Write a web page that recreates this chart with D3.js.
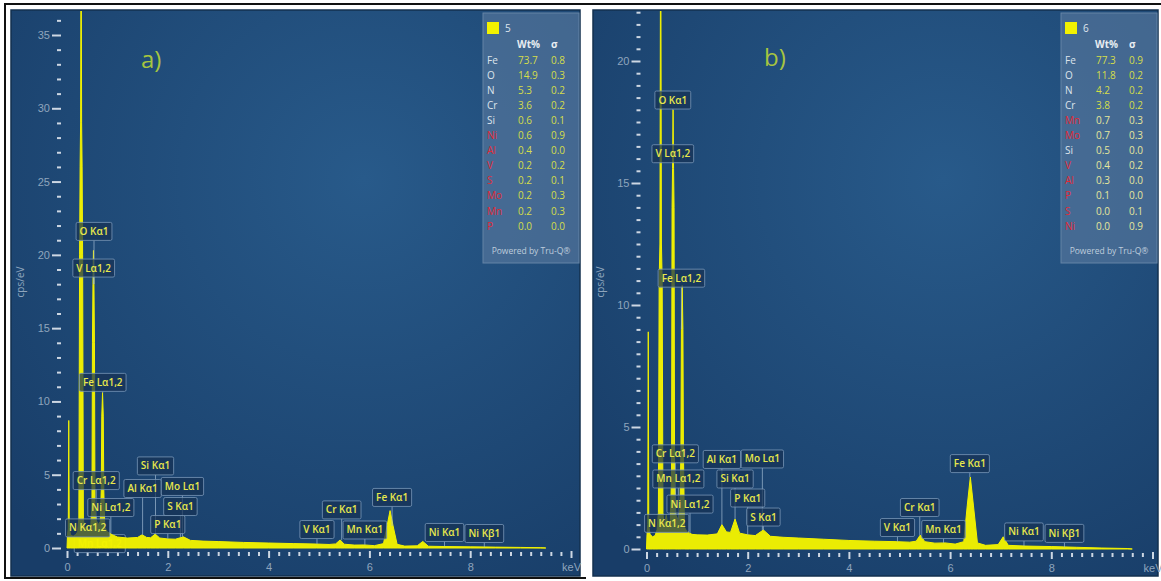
<!DOCTYPE html>
<html>
<head>
<meta charset="utf-8">
<script src="https://cdn.jsdelivr.net/npm/d3@7"></script>
<style>
  body { margin: 0; background: #fff; }
  svg { display: block; font-family: "Open Sans", "Noto Sans", sans-serif; }
</style>
</head>
<body>
<div id="chart"></div>
<script>
// spectrum a) : [keV, cps/eV]
const specA = [
  [0.00, 0.0], [0.01, 0.9], [0.025, 1.3], [0.035, 8.7], [0.045, 1.4], [0.07, 0.9],
  [0.12, 0.8], [0.17, 0.9], [0.21, 1.1], [0.235, 2.0], [0.25, 20], [0.26, 26],
  [0.27, 29], [0.28, 45], [0.29, 29], [0.30, 26], [0.31, 20], [0.325, 2.0],
  [0.35, 1.3], [0.39, 1.5], [0.43, 1.2], [0.47, 1.4], [0.495, 3.0], [0.505, 14],
  [0.515, 18], [0.525, 20.3], [0.535, 18], [0.545, 14], [0.555, 3.0], [0.58, 1.9],
  [0.62, 1.6], [0.66, 1.8], [0.68, 4.0], [0.69, 9.0], [0.705, 10.6], [0.72, 9.0],
  [0.73, 4.0], [0.75, 1.4], [0.80, 1.1], [0.85, 1.0], [0.90, 0.9], [1.00, 0.75],
  [1.20, 0.68], [1.40, 0.72], [1.49, 0.9], [1.58, 0.72], [1.66, 0.7], [1.75, 0.95],
  [1.84, 0.68], [2.00, 0.62], [2.15, 0.6], [2.31, 0.76], [2.45, 0.52], [2.70, 0.47],
  [3.00, 0.44], [3.50, 0.38], [4.00, 0.34], [4.50, 0.30], [4.95, 0.27], [5.20, 0.24],
  [5.33, 0.28], [5.42, 0.55], [5.50, 0.26], [5.70, 0.20], [5.90, 0.21], [6.10, 0.16],
  [6.28, 0.3], [6.35, 1.5], [6.41, 2.55], [6.47, 1.5], [6.55, 0.25], [6.70, 0.13],
  [6.95, 0.15], [7.06, 0.45], [7.17, 0.12], [7.50, 0.10], [8.00, 0.08], [8.50, 0.06],
  [9.00, 0.04], [9.40, 0.02], [9.50, 0.0]
];

// spectrum b)
const specB = [
  [0.00, 0.0], [0.01, 0.6], [0.025, 1.0], [0.035, 8.9], [0.045, 1.0], [0.07, 0.6],
  [0.12, 0.5], [0.17, 0.55], [0.21, 0.8], [0.235, 1.5], [0.25, 11], [0.265, 12.5],
  [0.28, 28], [0.295, 12.5], [0.31, 11], [0.325, 1.5], [0.35, 0.9], [0.39, 1.4],
  [0.43, 0.9], [0.47, 1.1], [0.495, 3.0], [0.505, 14], [0.515, 15.6], [0.525, 18],
  [0.535, 15.6], [0.545, 14], [0.555, 3.0], [0.58, 1.4], [0.62, 1.2], [0.66, 1.6],
  [0.68, 4.0], [0.69, 9.0], [0.705, 10.8], [0.72, 9.0], [0.73, 4.0], [0.75, 0.9],
  [0.80, 0.7], [0.85, 0.65], [0.90, 0.6], [1.00, 0.58], [1.20, 0.57], [1.40, 0.62],
  [1.49, 1.0], [1.58, 0.7], [1.66, 0.68], [1.75, 1.23], [1.84, 0.65], [2.00, 0.58],
  [2.15, 0.55], [2.31, 0.78], [2.45, 0.52], [2.70, 0.48], [3.00, 0.45], [3.50, 0.40],
  [4.00, 0.35], [4.50, 0.32], [4.95, 0.30], [5.20, 0.28], [5.33, 0.32], [5.41, 0.57],
  [5.50, 0.30], [5.70, 0.24], [5.90, 0.25], [6.10, 0.20], [6.27, 0.3], [6.34, 1.8],
  [6.40, 2.95], [6.46, 1.8], [6.54, 0.25], [6.70, 0.15], [6.95, 0.18], [7.05, 0.5],
  [7.15, 0.15], [7.50, 0.12], [8.00, 0.10], [8.50, 0.07], [9.00, 0.04], [9.50, 0.02],
  [9.60, 0.0]
];

// peak labels: [text, keV, label height in cps/eV]
const peakLabelsA = [
  ["O Kα1", 0.536, 21.6], ["V Lα1,2", 0.53, 19.1], ["Fe Lα1,2", 0.71, 11.3],
  ["Si Kα1", 1.756, 5.6], ["Cr Lα1,2", 0.58, 4.6], ["Al Kα1", 1.50, 4.06],
  ["Mo Lα1", 2.29, 4.2], ["Ni Lα1,2", 0.87, 2.76], ["S Kα1", 2.25, 2.83],
  ["N Kα1,2", 0.41, 1.37], ["P Kα1", 2.0, 1.6], ["Mn Lα1,2", 0.65, 0.3],
  ["V Kα1", 4.96, 1.26], ["Cr Kα1", 5.45, 2.6], ["Mn Kα1", 5.91, 1.23],
  ["Fe Kα1", 6.45, 3.45], ["Ni Kα1", 7.49, 1.06], ["Ni Kβ1", 8.28, 0.99]
];
const peakLabelsB = [
  ["O Kα1", 0.52, 18.4], ["V Lα1,2", 0.52, 16.2], ["Fe Lα1,2", 0.69, 11.1],
  ["Cr Lα1,2", 0.57, 3.9], ["Mn Lα1,2", 0.63, 2.87], ["Ni Lα1,2", 0.86, 1.84],
  ["N Kα1,2", 0.40, 1.05], ["Al Kα1", 1.49, 3.67], ["Mo Lα1", 2.29, 3.69],
  ["Si Kα1", 1.75, 2.87], ["P Kα1", 2.0, 2.09], ["S Kα1", 2.31, 1.31],
  ["Fe Kα1", 6.39, 3.5], ["Cr Kα1", 5.40, 1.7], ["V Kα1", 4.96, 0.88],
  ["Mn Kα1", 5.87, 0.8], ["Ni Kα1", 7.46, 0.7], ["Ni Kβ1", 8.26, 0.64]
];

// quantification tables
const elementsA = ["Fe", "O", "N", "Cr", "Si", "Ni", "Al", "V", "S", "Mo", "Mn", "P"];
const wtA = [73.7, 14.9, 5.3, 3.6, 0.6, 0.6, 0.4, 0.2, 0.2, 0.2, 0.2, 0.0];
const sigmaA = [0.8, 0.3, 0.2, 0.2, 0.1, 0.9, 0.0, 0.2, 0.1, 0.3, 0.3, 0.0];
const flaggedA = [false, false, false, false, false, true, true, true, true, true, true, true];

const elementsB = ["Fe", "O", "N", "Cr", "Mn", "Mo", "Si", "V", "Al", "P", "S", "Ni"];
const wtB = [77.3, 11.8, 4.2, 3.8, 0.7, 0.7, 0.5, 0.4, 0.3, 0.1, 0.0, 0.0];
const sigmaB = [0.9, 0.2, 0.2, 0.2, 0.3, 0.3, 0.0, 0.2, 0.0, 0.0, 0.1, 0.9];
const flaggedB = [false, false, false, false, true, true, false, true, true, true, true, true];

const W = 1161, H = 581;
const yellow = '#f2f200';

const svg = d3.select('#chart').append('svg')
  .attr('width', W).attr('height', H);

const defs = svg.append('defs');
const grad = defs.append('radialGradient').attr('id', 'bg')
  .attr('cx', '62%').attr('cy', '30%').attr('r', '85%');
grad.append('stop').attr('offset', '0%').attr('stop-color', '#285a8a');
grad.append('stop').attr('offset', '100%').attr('stop-color', '#183d68');

// outer black frame
svg.append('path')
  .attr('d', `M5,579 L5,4 L1161,4`)
  .attr('fill', 'none').attr('stroke', '#111').attr('stroke-width', 2);
svg.append('line').attr('x1', 5).attr('x2', 586).attr('y1', 578).attr('y2', 578)
  .attr('stroke', '#111').attr('stroke-width', 2);

function drawPanel(p) {
  const g = svg.append('g');

  g.append('rect')
    .attr('x', p.left).attr('y', 10)
    .attr('width', p.right - p.left).attr('height', p.bottom - 10)
    .attr('fill', 'url(#bg)')
    .attr('stroke', '#13304f').attr('stroke-width', 1.5);

  const clipId = 'clip' + p.tag;
  defs.append('clipPath').attr('id', clipId)
    .append('rect').attr('x', p.left).attr('y', 11)
    .attr('width', p.right - p.left).attr('height', p.bottom - 11);

  const x = d3.scaleLinear().domain([0, 10]).range([p.xZero, p.xZero + p.xSpan]);
  const y = d3.scaleLinear().domain([0, p.yRef]).range([p.yZero, p.yRefPx]);

  // y axis: majors + minors
  const yMajors = d3.range(0, p.yTop + 0.001, 5);
  const yMinors = d3.range(0, p.yTop + 0.001, p.yMinor).filter(v => Math.abs(v % 5) > 1e-6);

  const yAxisG = g.append('g')
    .attr('transform', `translate(${p.xZero - 6},0)`);
  yAxisG.append('g')
    .call(d3.axisLeft(y).tickValues(yMajors).tickSize(9).tickPadding(2).tickFormat(d3.format('d')));
  yAxisG.append('g')
    .call(d3.axisLeft(y).tickValues(yMinors).tickSize(4).tickFormat(''));

  // x axis
  const xMajors = d3.range(0, 10.001, 2);
  const xMinors = d3.range(0, 10.001, 0.2).filter(v => Math.abs(v / 2 - Math.round(v / 2)) > 1e-6);
  const xAxisG = g.append('g')
    .attr('transform', `translate(0,${p.yZero + 3})`);
  xAxisG.append('g')
    .call(d3.axisBottom(x).tickValues(xMajors).tickSize(7).tickPadding(5)
      .tickFormat(d => d === 10 ? 'keV' : d));
  xAxisG.append('g')
    .attr('transform', 'translate(0,1)')
    .call(d3.axisBottom(x).tickValues(xMinors).tickSize(4).tickFormat(''));

  g.selectAll('.domain').remove();
  g.selectAll('.tick line').attr('stroke', '#cdd7e3').attr('stroke-width', 2);
  g.selectAll('.tick text').attr('fill', '#8fa5bd').style('font-size', '11px');

  g.append('text')
    .attr('transform', `translate(${p.cpsX},282) rotate(-90)`)
    .attr('text-anchor', 'middle')
    .attr('fill', '#8fa5bd')
    .style('font-size', '10px')
    .text('cps/eV');

  const bisect = d3.bisector(d => d[0]).center;
  function drawLabel(l) {
    const cx = x(l[1]), cy = y(l[2]);
    const peak = p.spec[bisect(p.spec, l[1])];
    const py = y(peak[1]);
    if (py > cy + 9) {
      g.append('line')
        .attr('x1', cx).attr('x2', cx)
        .attr('y1', cy + 9).attr('y2', py)
        .attr('stroke', 'rgba(160,185,210,0.7)').attr('stroke-width', 1);
    }
    const lg = g.append('g').attr('transform', `translate(${cx},${cy})`);
    const box = lg.append('rect');
    const t = lg.append('text')
      .attr('text-anchor', 'middle')
      .attr('dy', '0.35em')
      .attr('fill', '#e8e84c')
      .style('font-size', '10px')
      .style('font-weight', 600)
      .text(l[0]);
    const tw = t.node().getComputedTextLength();
    box.attr('x', -tw / 2 - 3.5).attr('y', -9)
      .attr('width', tw + 7).attr('height', 18)
      .attr('rx', 1.5)
      .attr('fill', 'rgba(22,50,84,0.72)')
      .attr('stroke', 'rgba(120,150,182,0.8)')
      .attr('stroke-width', 1);
  }

  // labels sitting on the baseline are drawn under the spectrum
  p.labels.filter(l => l[2] < 0.5).forEach(drawLabel);

  // spectrum
  const area = d3.area()
    .x(d => x(d[0]))
    .y0(y(0))
    .y1(d => y(d[1]));

  g.append('path')
    .datum(p.spec)
    .attr('clip-path', `url(#${clipId})`)
    .attr('fill', yellow)
    .attr('fill-opacity', 0.97)
    .attr('stroke', yellow)
    .attr('stroke-width', 1)
    .attr('d', area);

  p.labels.filter(l => l[2] >= 0.5).forEach(drawLabel);

  // panel letter
  g.append('text')
    .attr('x', p.letterX).attr('y', p.letterY)
    .attr('fill', '#a7c540')
    .style('font-size', '24px')
    .text(p.letter);

  // quantification legend
  const lx = p.right - 97;
  const leg = g.append('g').attr('transform', `translate(${lx},13)`);
  leg.append('rect')
    .attr('width', 96).attr('height', 250)
    .attr('fill', 'rgba(92,124,160,0.6)')
    .attr('stroke', '#6584a6').attr('stroke-width', 1);
  leg.append('rect')
    .attr('x', 4).attr('y', 9).attr('width', 12).attr('height', 12)
    .attr('fill', yellow);
  leg.append('text')
    .attr('x', 22).attr('y', 18.5)
    .attr('fill', '#dfe6ee').style('font-size', '10px')
    .text(p.tag);
  leg.append('text')
    .attr('x', 34).attr('y', 35)
    .attr('fill', '#e8edf2').style('font-size', '10px').style('font-weight', 700)
    .text('Wt%');
  leg.append('text')
    .attr('x', 68).attr('y', 35)
    .attr('fill', '#e8edf2').style('font-size', '10px').style('font-weight', 700)
    .text('σ');

  const rows = leg.selectAll('.row')
    .data(p.elements.map((e, i) => ({ e, wt: p.wt[i], s: p.sigma[i], red: p.flagged[i], i })))
    .enter().append('g')
    .attr('transform', d => `translate(0,${50.5 + d.i * 15.1})`);
  rows.append('text')
    .attr('x', 4)
    .attr('fill', d => d.red ? '#e12a36' : '#dde4ec')
    .style('font-size', '10px')
    .text(d => d.e);
  rows.append('text')
    .attr('x', 35)
    .attr('fill', d => d.i >= p.paleFrom ? '#e6e79c' : '#d5de4a')
    .style('font-size', '10px')
    .text(d => d.wt.toFixed(1));
  rows.append('text')
    .attr('x', 68)
    .attr('fill', d => d.i >= p.paleFrom ? '#e6e79c' : '#d5de4a')
    .style('font-size', '10px')
    .text(d => d.s.toFixed(1));

  leg.append('text')
    .attr('x', 48).attr('y', 241)
    .attr('text-anchor', 'middle')
    .attr('fill', '#bfcddc').style('font-size', '8.5px')
    .text('Powered by Tru-Q®');
}

drawPanel({
  tag: '5', letter: 'a)', letterX: 141, letterY: 68,
  left: 11, right: 580, bottom: 576,
  xZero: 67, xSpan: 504,
  yZero: 548, yRef: 35, yRefPx: 35, yTop: 36, yMinor: 1,
  cpsX: 24,
  spec: specA, labels: peakLabelsA,
  elements: elementsA, wt: wtA, sigma: sigmaA, flagged: flaggedA, paleFrom: 99
});

drawPanel({
  tag: '6', letter: 'b)', letterX: 764, letterY: 66,
  left: 593, right: 1158, bottom: 576,
  xZero: 646.5, xSpan: 506,
  yZero: 549, yRef: 20, yRefPx: 61, yTop: 22, yMinor: 0.5,
  cpsX: 604,
  spec: specB, labels: peakLabelsB,
  elements: elementsB, wt: wtB, sigma: sigmaB, flagged: flaggedB, paleFrom: 4
});
</script>
</body>
</html>
